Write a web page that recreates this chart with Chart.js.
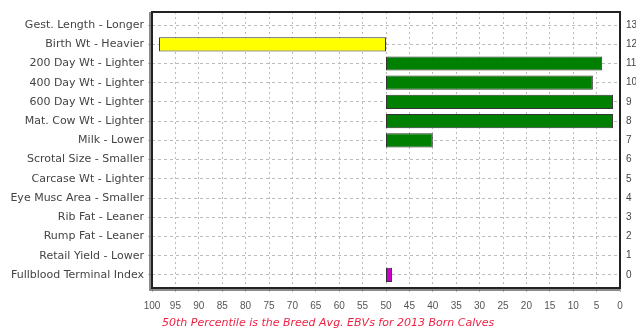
<!DOCTYPE html>
<html lang="en">
<head>
    <meta charset="UTF-8">
    <title>EBV Percentile Chart</title>
    <script src="https://cdn.jsdelivr.net/npm/chart.js@4.4.0/dist/chart.umd.min.js"></script>
    <style>
        html, body {
            margin: 0;
            padding: 0;
            background: #fff;
        }
        .chart-container {
            position: relative;
            width: 640px;
            height: 331px;
        }
        .caption {
            position: absolute;
            left: 162px;
            top: 316px;
            font-family: 'DejaVu Sans', sans-serif;
            font-style: italic;
            font-size: 11px;
            color: #ee2244;
            white-space: nowrap;
        }
    </style>
</head>
<body>
    <div class="chart-container">
        <canvas id="ebvChart"></canvas>
        <div class="caption">50th Percentile is the Breed Avg. EBVs for 2013 Born Calves</div>
    </div>

    <script>
        // Traits, top row first
        const traits = [
            'Gest. Length - Longer',
            'Birth Wt - Heavier',
            '200 Day Wt - Lighter',
            '400 Day Wt - Lighter',
            '600 Day Wt - Lighter',
            'Mat. Cow Wt - Lighter',
            'Milk - Lower',
            'Scrotal Size - Smaller',
            'Carcase Wt - Lighter',
            'Eye Musc Area - Smaller',
            'Rib Fat - Leaner',
            'Rump Fat - Leaner',
            'Retail Yield - Lower',
            'Fullblood Terminal Index'
        ];
        const rowNumbers = ['13', '12', '11', '10', '9', '8', '7', '6', '5', '4', '3', '2', '1', '0'];
        // bars start at the breed average (50th percentile) and run to the animal's percentile
        const breedAvg = 50;
        const percentiles = [null, 98.5, 3.8, 5.8, 1.5, 1.5, 40, null, null, null, null, null, null, 48.7];
        const percentileTicks = [100, 95, 90, 85, 80, 75, 70, 65, 60, 55, 50, 45, 40, 35, 30, 25, 20, 15, 10, 5, 0];

        function barColor(i) {
            if (i === traits.length - 1) return '#cc00cc';
            return percentiles[i] > breedAvg ? '#ffff00' : '#008000';
        }

        // frame around the plot area
        const framePlugin = {
            id: 'frame',
            afterDraw(chart) {
                const a = chart.chartArea;
                const ctx = chart.ctx;
                ctx.save();
                ctx.strokeStyle = '#222';
                ctx.lineWidth = 2;
                ctx.strokeRect(a.left, a.top, a.right - a.left, a.bottom - a.top);
                ctx.strokeStyle = '#666';
                ctx.lineWidth = 1.5;
                ctx.beginPath();
                ctx.moveTo(a.left - 2, a.top);
                ctx.lineTo(a.left - 2, a.bottom + 2);
                ctx.lineTo(a.right, a.bottom + 2);
                ctx.stroke();
                ctx.restore();
            }
        };

        // one tick per row, fresh objects for each axis
        const rowTicks = () => traits.map((t, i) => ({ value: i }));

        new Chart(document.getElementById('ebvChart'), {
            type: 'bar',
            data: {
                datasets: [{
                    data: percentiles
                        .map((v, i) => v === null ? null : { x: [breedAvg, v], y: i })
                        .filter(Boolean),
                    backgroundColor: ctx => barColor(ctx.raw.y),
                    borderColor: '#333',
                    borderWidth: 1,
                    borderSkipped: false,
                    barPercentage: 0.74,
                    categoryPercentage: 1
                }]
            },
            options: {
                indexAxis: 'y',
                responsive: true,
                maintainAspectRatio: false,
                animation: false,
                layout: {
                    padding: { top: 12, right: 4, left: 0, bottom: 11 }
                },
                plugins: {
                    legend: { display: false },
                    tooltip: { enabled: false }
                },
                scales: {
                    x: {
                        type: 'linear',
                        reverse: true,
                        min: 0,
                        max: 100,
                        afterBuildTicks(scale) {
                            scale.ticks = percentileTicks.map(v => ({ value: v }));
                        },
                        ticks: {
                            color: '#555',
                            font: { family: 'Liberation Sans', size: 10 },
                            maxRotation: 0,
                            autoSkip: false,
                            padding: 8
                        },
                        grid: {
                            color: '#bbb',
                            tickLength: 4
                        },
                        border: { display: false, dash: [2, 3] }
                    },
                    y: {
                        type: 'linear',
                        position: 'left',
                        reverse: true,
                        offset: false,
                        min: -0.68,
                        max: 13.68,
                        afterBuildTicks(scale) { scale.ticks = rowTicks(); },
                        afterFit(scale) { scale.width = 152; },
                        ticks: {
                            color: '#444',
                            font: { family: 'DejaVu Sans', size: 11 },
                            padding: 4,
                            autoSkip: false,
                            callback: v => traits[v]
                        },
                        grid: {
                            offset: false,
                            color: '#bbb',
                            tickLength: 4
                        },
                        border: { display: false, dash: [3, 3] }
                    },
                    y2: {
                        type: 'linear',
                        position: 'right',
                        reverse: true,
                        offset: false,
                        min: -0.68,
                        max: 13.68,
                        afterBuildTicks(scale) { scale.ticks = rowTicks(); },
                        afterFit(scale) { scale.width = 16; },
                        ticks: {
                            color: '#444',
                            font: { family: 'Liberation Sans', size: 10 },
                            padding: 3,
                            autoSkip: false,
                            callback: v => rowNumbers[v]
                        },
                        grid: { display: false, tickLength: 3 },
                        border: { display: false }
                    }
                }
            },
            plugins: [framePlugin]
        });
    </script>
</body>
</html>
